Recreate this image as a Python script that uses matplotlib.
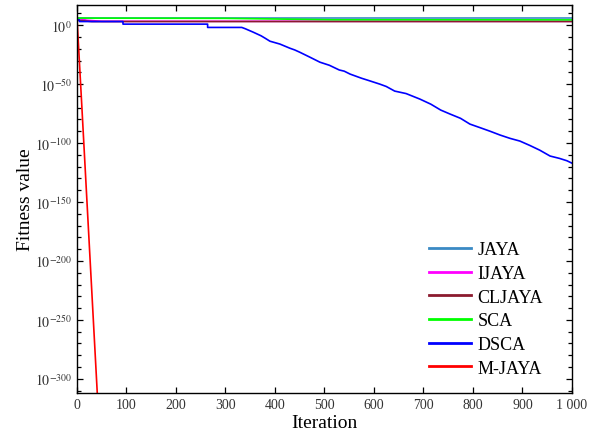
import numpy as np
import matplotlib
matplotlib.use("Agg")
import matplotlib.pyplot as plt
from matplotlib.ticker import FixedLocator, MultipleLocator, FuncFormatter

plt.rcParams['font.family'] = ['Liberation Serif', 'DejaVu Serif']
plt.rcParams['mathtext.fontset'] = 'stix'

# best fitness per iteration, stored as log10(value)
jaya_it = [0, 1000]
jaya_log = [5.7, 5.7]

ijaya_it = [0, 20, 50, 1000]
ijaya_log = [6.0, 4.2, 3.3, 3.3]

cljaya_it = [0, 30, 1000]
cljaya_log = [4.2, 3.1, 3.1]

sca_it = [0, 300, 517, 1000]
sca_log = [6.0, 5.8, 4.6, 4.5]

dsca_it = [0, 5, 5, 93, 93, 264, 264, 333, 340, 356, 372, 380, 390, 410, 430, 440, 450,
           470, 491, 510, 530, 540, 552, 575, 590, 612, 625, 642, 665, 693, 715, 735,
           754, 775, 794, 815, 835, 855, 875, 895, 915, 935, 956, 975, 990, 1000]
dsca_log = [4.5, 4.5, 3.1, 3.1, 0.9, 0.9, -1.9, -1.9, -3, -5.9, -9, -11, -13.6, -16,
            -19.5, -21, -22.9, -27, -31.4, -34, -38, -39, -41.5, -45, -47, -50, -52,
            -55.9, -58, -62.7, -67, -72, -75.4, -79, -83.9, -87, -90, -93.2, -96,
            -98.3, -102, -106, -111, -113, -115, -117]

mjaya_it = [0, 10, 20, 30, 40, 45]
mjaya_log = [6.8, -70, -148, -226, -304, -343]

names = ['JAYA', 'IJAYA', 'CLJAYA', 'SCA', 'DSCA', 'M-JAYA']
colors = ['#3a8ac4', '#ff00ff', '#8b1a2e', '#00ff00', '#0000ff', '#ff0000']


def main():
    fig = plt.figure(figsize=(5.92, 4.39), dpi=100)
    ax = fig.add_axes([0.130, 0.1025, 0.836, 0.8835])

    series = [(jaya_it, jaya_log), (ijaya_it, ijaya_log), (cljaya_it, cljaya_log),
              (sca_it, sca_log), (dsca_it, dsca_log), (mjaya_it, mjaya_log)]
    for (it, lv), name, c in zip(series, names, colors):
        ax.plot(it, lv, color=c, lw=1.2, label=name)

    ax.set_xlim(0, 1000)
    ax.set_ylim(-312, 17)
    ax.set_xticks(np.arange(0, 1001, 100))
    ax.set_xticklabels([str(v) if v < 1000 else '1 000' for v in range(0, 1001, 100)])
    ax.yaxis.set_major_locator(FixedLocator(np.arange(-300, 1, 50)))
    ax.yaxis.set_minor_locator(MultipleLocator(10))
    ax.yaxis.set_major_formatter(FuncFormatter(lambda v, _: r'$10^{%d}$' % v))

    ax.tick_params(which='both', direction='in', top=True, right=True,
                   labelsize=10, labelcolor='#333333')
    ax.tick_params(which='major', length=4.5, width=0.9)
    ax.tick_params(which='minor', length=3, width=0.9)
    for s in ax.spines.values():
        s.set_linewidth(1.0)

    ax.set_xlabel('Iteration', fontsize=14, labelpad=2)
    ax.set_ylabel('Fitness value', fontsize=14, labelpad=1)

    leg = ax.legend(loc='lower right', bbox_to_anchor=(0.975, 0.0), frameon=False,
                    fontsize=13, handlelength=2.3, labelspacing=0.37, handletextpad=0.4)
    for line in leg.get_lines():
        line.set_linewidth(2.0)

    fig.savefig('out.png', dpi=100)


if __name__ == "__main__":
    main()
